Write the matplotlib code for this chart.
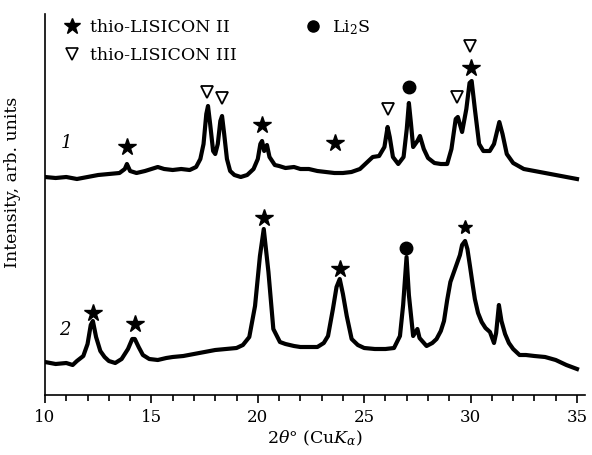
import numpy as np
import matplotlib
matplotlib.use("Agg")
import matplotlib.pyplot as plt

plt.rcParams['font.family'] = ['DejaVu Serif']
plt.rcParams['mathtext.fontset'] = 'dejavuserif'

# pattern 1 (upper trace), 2theta in degrees, intensity in arb. units
t1_x = [10.0, 10.5, 11.0, 11.5, 12.0, 12.5, 13.0, 13.5, 13.75, 13.85, 14.0, 14.3, 14.7,
        15.0, 15.3, 15.6, 16.0, 16.4, 16.8, 17.1, 17.3, 17.45, 17.58, 17.66, 17.76,
        17.9, 18.0, 18.12, 18.24, 18.32, 18.42, 18.55, 18.7, 18.9, 19.2, 19.5, 19.8,
        20.0, 20.12, 20.2, 20.3, 20.43, 20.55, 20.8, 21.0, 21.3, 21.7, 22.0, 22.4,
        22.8, 23.2, 23.6, 24.0, 24.4, 24.8, 25.1, 25.4, 25.7, 25.95, 26.1, 26.2,
        26.35, 26.6, 26.85, 27.0, 27.1, 27.2, 27.3, 27.5, 27.62, 27.8, 28.0, 28.3,
        28.6, 28.9, 29.1, 29.3, 29.4, 29.6, 29.8, 29.95, 30.05, 30.2, 30.4, 30.6,
        30.9, 31.1, 31.35, 31.5, 31.7, 32.0, 32.5, 33.0, 33.5, 34.0, 34.5, 35.0]
t1_y = [218, 217, 218, 216, 218, 220, 221, 222, 226, 231, 224, 222, 224,
        226, 228, 226, 225, 226, 225, 228, 236, 251, 281, 289, 271,
        244, 241, 251, 274, 279, 261, 236, 224, 220, 218, 220, 226,
        236, 251, 254, 244, 250, 238, 230, 229, 227, 228, 226, 226,
        224, 223, 222, 222, 223, 226, 232, 238, 239, 248, 268, 258,
        238, 231, 238, 266, 292, 271, 248, 254, 259, 246, 237, 232,
        231, 231, 246, 276, 278, 263, 286, 312, 314, 286, 251, 244,
        244, 251, 273, 261, 241, 232, 226, 224, 222, 220, 218, 216]

# pattern 2 (lower trace)
t2_x = [10.0, 10.5, 11.0, 11.3, 11.5, 11.8, 12.0, 12.15, 12.25, 12.4, 12.6, 12.8,
        13.0, 13.3, 13.6, 13.9, 14.1, 14.22, 14.4, 14.6, 14.9, 15.3, 15.7, 16.0,
        16.5, 17.0, 17.5, 18.0, 18.5, 19.0, 19.3, 19.6, 19.87, 20.1, 20.28, 20.5,
        20.73, 21.04, 21.3, 21.7, 22.0, 22.4, 22.8, 23.1, 23.3, 23.53, 23.7, 23.85,
        24.0, 24.18, 24.41, 24.7, 25.0, 25.5, 26.0, 26.4, 26.68, 26.83, 26.99, 27.1,
        27.3, 27.5, 27.6, 27.93, 28.2, 28.4, 28.6, 28.75, 28.9, 29.05, 29.25, 29.5,
        29.6, 29.74, 29.85, 29.97, 30.1, 30.2, 30.35, 30.52, 30.7, 30.91, 31.1, 31.2,
        31.33, 31.45, 31.62, 31.8, 32.0, 32.3, 32.6, 33.0, 33.5, 34.0, 34.5, 35.0]
t2_y = [33, 31, 32, 30, 34, 39, 51, 70, 74, 58, 44, 38,
        34, 32, 36, 46, 56, 56, 48, 40, 36, 35, 37, 38,
        39, 41, 43, 45, 46, 47, 50, 58, 89, 139, 166, 123,
        66, 53, 51, 49, 48, 48, 48, 52, 59, 86, 108, 116,
        101, 79, 56, 50, 47, 46, 46, 47, 59, 90, 138, 100,
        59, 66, 57, 49, 52, 56, 64, 74, 95, 113, 125, 140,
        150, 154, 146, 129, 110, 96, 82, 73, 67, 63, 52, 62,
        90, 74, 61, 52, 46, 40, 40, 39, 38, 35, 30, 26]

# peak markers: position, height, phase
m_star_x = [13.85, 20.2, 23.63, 30.02, 12.26, 14.22, 20.27, 23.85]
m_star_y = [248, 270, 252, 327, 82, 71, 177, 126]
m_tri_x = [17.62, 18.32, 26.12, 29.36, 29.95]
m_tri_y = [303, 297, 286, 298, 349]
m_dot_x = [27.12, 26.98]
m_dot_y = [308, 147]
m_star2_x = [29.74]
m_star2_y = [168]

fig = plt.figure(figsize=(5.92, 4.56), dpi=100)
ax = fig.add_axes([45 / 592, 60 / 456, 540 / 592, 381 / 456])

ax.plot(t1_x, t1_y, color='black', lw=3.0)
ax.plot(t2_x, t2_y, color='black', lw=3.0)

ax.plot(m_star_x, m_star_y, ls='none', marker='*', ms=13, color='black')
ax.plot(m_star2_x, m_star2_y, ls='none', marker='*', ms=10, color='black')
ax.plot(m_tri_x, m_tri_y, ls='none', marker='v', ms=9, mfc='white', mec='black', mew=1.3)
ax.plot(m_dot_x, m_dot_y, ls='none', marker='o', ms=9, color='black')

ax.text(11.0, 253, '1', fontsize=13, style='italic', ha='center', va='center')
ax.text(10.95, 66, '2', fontsize=13, style='italic', ha='center', va='center')

# legend by hand
tr = ax.transAxes
ax.plot([0.05], [0.968], marker='*', ms=12, color='black', transform=tr, clip_on=False)
ax.text(0.083, 0.968, 'thio-LISICON II', fontsize=12.5, va='center', transform=tr)
ax.plot([0.05], [0.895], marker='v', ms=8, mfc='white', mec='black', mew=1.2,
        transform=tr, clip_on=False)
ax.text(0.083, 0.895, 'thio-LISICON III', fontsize=12.5, va='center', transform=tr)
ax.plot([0.496], [0.968], marker='o', ms=8, color='black', transform=tr, clip_on=False)
ax.text(0.531, 0.968, r'Li$_2$S', fontsize=12.5, va='center', transform=tr)

ax.set_xlim(10, 10 + 540 / 21.28)
ax.set_ylim(0, 381)
ax.set_xticks(np.arange(10, 36, 5))
ax.set_xticks(np.arange(10, 36, 1), minor=True)
ax.tick_params(axis='x', which='major', length=6, width=1.2, labelsize=12, direction='out')
ax.tick_params(axis='x', which='minor', length=4, width=1.2, direction='out')
ax.set_yticks([])
for s in ['top', 'right']:
    ax.spines[s].set_visible(False)
for s in ['left', 'bottom']:
    ax.spines[s].set_linewidth(1.2)

ax.set_xlabel(r'2$\theta$° (Cu$K_\alpha$)', fontsize=12.5, labelpad=2)
ax.set_ylabel('Intensity, arb. units', fontsize=12.5)
ax.yaxis.set_label_coords(-0.045, 0.56)

fig.savefig('out.png', dpi=100)
